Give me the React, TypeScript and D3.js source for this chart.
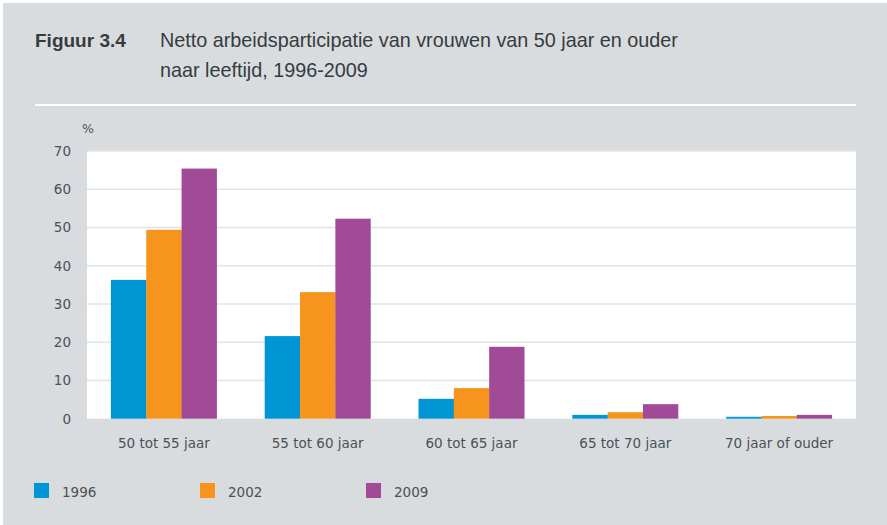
import { useRef, useEffect } from 'react';
import * as d3 from 'd3';

var CATEGORIES = ['50 tot 55 jaar', '55 tot 60 jaar', '60 tot 65 jaar', '65 tot 70 jaar', '70 jaar of ouder'];
var YEARS = ['1996', '2002', '2009'];
var VALUES_1996 = [36.3, 21.6, 5.2, 1.0, 0.5];
var VALUES_2002 = [49.4, 33.1, 8.0, 1.7, 0.7];
var VALUES_2009 = [65.4, 52.3, 18.8, 3.8, 1.0];
var Y_TICKS = [0, 10, 20, 30, 40, 50, 60, 70];
var COLORS = ['#0096d6', '#f7941d', '#a04a98'];

var W = 887;
var H = 525;

export default function App() {
  var svgRef = useRef<SVGSVGElement | null>(null);

  useEffect(function () {
    var svg = d3.select(svgRef.current);
    svg.selectAll('*').remove();

    var series = [VALUES_1996, VALUES_2002, VALUES_2009];
    var left = 87, right = 856, top = 151, bottom = 418.7;
    var textColor = '#4b5156';
    var font = '"DejaVu Sans", sans-serif';

    // background panel
    svg.append('rect').attr('x', 0).attr('y', 0).attr('width', W).attr('height', H).attr('fill', '#ffffff');
    svg.append('rect').attr('x', 3).attr('y', 3).attr('width', W - 3).attr('height', H - 3).attr('fill', '#d9dcdf');

    // title
    svg.append('text')
      .attr('x', 35).attr('y', 47)
      .attr('font-family', '"Liberation Sans", Arial, sans-serif')
      .attr('font-size', '19px').attr('font-weight', 'bold')
      .attr('fill', '#363b40')
      .text('Figuur 3.4');
    var titleLines = ['Netto arbeidsparticipatie van vrouwen van 50 jaar en ouder', 'naar leeftijd, 1996-2009'];
    titleLines.forEach(function (t, i) {
      svg.append('text')
        .attr('x', 160).attr('y', 47 + i * 30)
        .attr('font-family', '"Liberation Sans", Arial, sans-serif')
        .attr('font-size', '19.8px')
        .attr('fill', '#363b40')
        .text(t);
    });

    svg.append('line')
      .attr('x1', 35).attr('x2', 856).attr('y1', 105).attr('y2', 105)
      .attr('stroke', '#ffffff').attr('stroke-width', 2);

    var x0 = d3.scaleBand().domain(CATEGORIES).range([left, right]).paddingInner(0).paddingOuter(0);
    var y = d3.scaleLinear().domain([0, 70]).range([bottom, top]);

    // plot area
    svg.append('rect')
      .attr('x', left).attr('y', top)
      .attr('width', right - left).attr('height', bottom - top)
      .attr('fill', '#ffffff');

    // grid lines
    svg.append('g')
      .selectAll('line')
      .data(Y_TICKS.filter(function (d) { return d > 0; }))
      .enter().append('line')
      .attr('x1', left).attr('x2', right)
      .attr('y1', function (d) { return y(d); })
      .attr('y2', function (d) { return y(d); })
      .attr('stroke', '#e2e3e5').attr('stroke-width', 1.5);

    // y tick labels
    svg.append('g')
      .selectAll('text')
      .data(Y_TICKS)
      .enter().append('text')
      .attr('x', 71)
      .attr('y', function (d) { return y(d) + 5; })
      .attr('text-anchor', 'end')
      .attr('font-family', font).attr('font-size', '13.5px')
      .attr('fill', textColor)
      .text(function (d) { return d; });

    svg.append('text')
      .attr('x', 88).attr('y', 133)
      .attr('text-anchor', 'middle')
      .attr('font-family', font).attr('font-size', '12.5px')
      .attr('fill', textColor)
      .text('%');

    // bars
    var groupW = 106;
    var x1 = d3.scaleBand().domain(YEARS).range([0, groupW]).padding(0);
    CATEGORIES.forEach(function (cat, ci) {
      var gx = (x0(cat) as number) + x0.bandwidth() / 2 - groupW / 2;
      YEARS.forEach(function (yr, si) {
        var v = series[si][ci];
        svg.append('rect')
          .attr('x', gx + (x1(yr) as number))
          .attr('y', y(v))
          .attr('width', x1.bandwidth() + (si < 2 ? 0.3 : 0))
          .attr('height', bottom - y(v))
          .attr('fill', COLORS[si]);
      });
      svg.append('text')
        .attr('x', (x0(cat) as number) + x0.bandwidth() / 2)
        .attr('y', 448)
        .attr('text-anchor', 'middle')
        .attr('font-family', font).attr('font-size', '13.5px')
        .attr('fill', textColor)
        .text(cat);
    });

    // legend
    var legendX = [34, 200, 366];
    YEARS.forEach(function (yr, i) {
      svg.append('rect')
        .attr('x', legendX[i]).attr('y', 483)
        .attr('width', 15).attr('height', 15)
        .attr('fill', COLORS[i]);
      svg.append('text')
        .attr('x', legendX[i] + 28).attr('y', 497)
        .attr('font-family', font).attr('font-size', '13.5px')
        .attr('fill', textColor)
        .text(yr);
    });
  }, []);

  return (
    <svg
      ref={svgRef}
      width={W}
      height={H}
      style={{ position: 'absolute', left: 0, top: 0 }}
    />
  );
}
